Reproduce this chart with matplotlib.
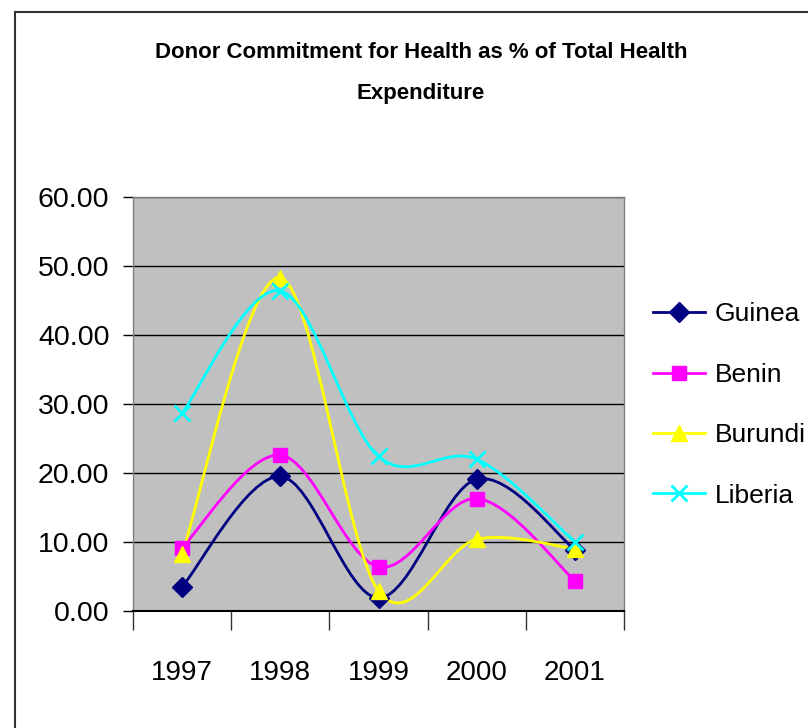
import matplotlib
matplotlib.use("Agg")
import matplotlib.pyplot as plt
from matplotlib.path import Path
from matplotlib.patches import PathPatch, Rectangle
from matplotlib.lines import Line2D

plt.rcParams["font.family"] = ["Liberation Sans", "DejaVu Sans"]

years = ["1997", "1998", "1999", "2000", "2001"]
guinea = [3.5, 19.5, 1.9, 19.1, 8.9]
benin = [9.2, 22.6, 6.4, 16.3, 4.4]
burundi = [8.3, 48.3, 2.9, 10.4, 9.0]
liberia = [28.7, 46.4, 22.4, 22.0, 10.0]

series = [
    ("Guinea", guinea, "#000080", "D", 10),
    ("Benin", benin, "#FF00FF", "s", 10),
    ("Burundi", burundi, "#FFFF00", "^", 12),
    ("Liberia", liberia, "#00FFFF", "x", 12),
]


def smooth_path(xs, ys):
    # excel-like smoothed line: bezier with catmull-rom control points
    n = len(xs)
    verts = [(xs[0], ys[0])]
    codes = [Path.MOVETO]
    for i in range(n - 1):
        p0 = max(i - 1, 0)
        p3 = min(i + 2, n - 1)
        c1 = (xs[i] + (xs[i + 1] - xs[p0]) / 6, ys[i] + (ys[i + 1] - ys[p0]) / 6)
        c2 = (xs[i + 1] - (xs[p3] - xs[i]) / 6, ys[i + 1] - (ys[p3] - ys[i]) / 6)
        verts += [c1, c2, (xs[i + 1], ys[i + 1])]
        codes += [Path.CURVE4] * 3
    return Path(verts, codes)


fig = plt.figure(figsize=(8.08, 7.28), dpi=100)
fig.patches.append(Rectangle((15 / 808, -0.1), 1.0, 1.1 - 12 / 728, transform=fig.transFigure,
                             fill=False, edgecolor="#333333", linewidth=1.5))

ax = fig.add_axes([133 / 808, 117 / 728, 491 / 808, 414 / 728])
ax.set_facecolor("#C0C0C0")
x = list(range(len(years)))

handles = []
for name, vals, col, mk, ms in series:
    ax.add_patch(PathPatch(smooth_path(x, vals), fill=False, edgecolor=col, linewidth=2, zorder=3))
    mew = 2 if mk == "x" else 1
    ax.plot(x, vals, linestyle="none", marker=mk, markersize=ms, color=col,
            markeredgewidth=mew, zorder=4)
    handles.append(Line2D([], [], color=col, linewidth=2, marker=mk, markersize=ms,
                          markeredgewidth=mew, label=name))

ax.set_xlim(-0.5, 4.5)
ax.set_ylim(0, 60)
ax.set_yticks(range(0, 61, 10))
ax.set_yticklabels(["%.2f" % v for v in range(0, 61, 10)])
ax.yaxis.grid(True, color="black", linewidth=1)
ax.set_axisbelow(True)

ax.set_xticks([i - 0.5 for i in range(len(years) + 1)])
ax.set_xticklabels([])
ax.set_xticks(x, minor=True)
ax.set_xticklabels(years, minor=True)
ax.tick_params(axis="x", which="major", length=14, width=1, color="#333333")
ax.tick_params(axis="x", which="minor", length=0, pad=35, labelsize=20)
ax.tick_params(axis="y", length=7, width=1, pad=10, labelsize=20.5)

for s in ["top", "right", "left"]:
    ax.spines[s].set_color("#808080")
    ax.spines[s].set_linewidth(1)
ax.spines["bottom"].set_color("black")
ax.spines["bottom"].set_linewidth(1.5)

fig.text(421 / 808, 1 - 73 / 728, "Donor Commitment for Health as % of Total Health\nExpenditure",
         ha="center", va="center", fontsize=16, fontweight="bold", linespacing=2.3)

fig.legend(handles=handles, loc="center left", bbox_to_anchor=(642 / 808, 1 - 405 / 728),
           frameon=False, fontsize=19, handlelength=2.0, handletextpad=0.35,
           labelspacing=1.38, borderaxespad=0)

fig.savefig("out.png", dpi=100)
